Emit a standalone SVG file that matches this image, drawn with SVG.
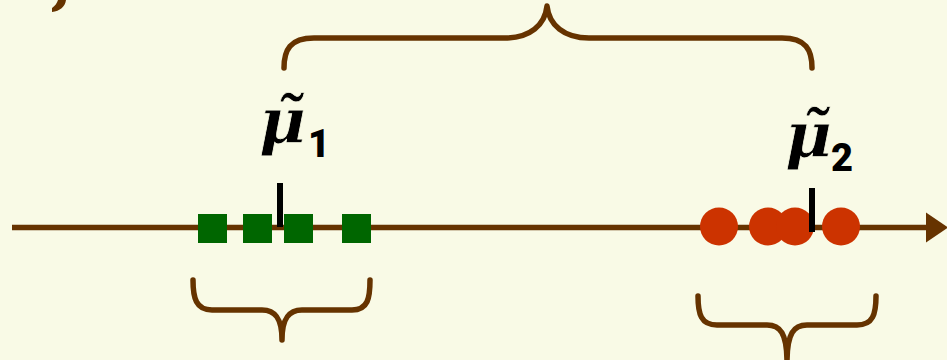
<svg xmlns="http://www.w3.org/2000/svg" width="947" height="360" viewBox="0 0 947 360">
<defs>
<style>
.brace{fill:none;stroke:#663300;stroke-width:5.5;stroke-linecap:round;stroke-linejoin:round}
.axis{stroke:#663300;stroke-width:5.5}
.sq{fill:#006600}
.dot{fill:#CC3300}
.tick{stroke:#000;stroke-width:6}
.mu{font-family:"DejaVu Serif",serif;font-style:italic;font-weight:bold;font-size:64px;fill:#000;stroke:#F9FAE6;stroke-width:0.8px}
.sub{font-family:Roboto,"Liberation Sans",sans-serif;font-weight:900;font-size:38px;fill:#000}
</style>
<marker id="arr" markerWidth="22" markerHeight="32" refX="0" refY="16" markerUnits="userSpaceOnUse" orient="auto">
<path d="M0,1 L22,16 L0,31 Z" fill="#663300"/>
</marker>
</defs>
<rect width="947" height="360" fill="#F9FAE6"/>
<g id="connectors">
<line class="axis" x1="12" y1="227.5" x2="926" y2="227.5" marker-end="url(#arr)"/>
</g>
<g id="fragment">
<path d="M58,0 L66,0 C65,7 60,11 52,12 L52,8 C55,6 57,3 58,0 Z" fill="#663300"/>
</g>
<g id="brace-top">
<path class="brace" d="M284,68 C284,50 290,38 314,38 L505,38 C530,38 545,25 547,6 C549,25 564,38 589,38 L782,38 C806,38 812,50 812,68"/>
</g>
<g id="brace-left">
<path class="brace" d="M193,280 C193,298 196,310 212,310 L262,310 C275,310 282,318 282,340 C282,318 289,310 302,310 L352,310 C368,310 370,298 370,280"/>
</g>
<g id="brace-right">
<path class="brace" d="M698,296 C698,314 701,325 717,325 L767,325 C780,325 787,333 787,362 C787,333 794,325 807,325 L857,325 C873,325 876,314 876,296"/>
</g>
<g id="group1">
<rect class="sq" x="198" y="214" width="29" height="29"/>
<rect class="sq" x="243" y="214" width="29" height="29"/>
<rect class="sq" x="284" y="214" width="29" height="29"/>
<rect class="sq" x="342" y="214" width="29" height="29"/>
<line class="tick" x1="280" y1="183" x2="280" y2="227"/>
</g>
<g id="group2">
<circle class="dot" cx="719" cy="226.5" r="19"/>
<circle class="dot" cx="768" cy="226.5" r="19"/>
<circle class="dot" cx="795" cy="226.5" r="19"/>
<circle class="dot" cx="841" cy="226.5" r="19"/>
<line class="tick" x1="812" y1="188" x2="812" y2="232"/>
</g>
<g id="label1">
<text class="mu" x="259" y="143">μ̃</text>
<text class="sub" x="308" y="157">1</text>
</g>
<g id="label2">
<text class="mu" x="785" y="157">μ̃</text>
<text class="sub" x="831" y="171">2</text>
</g>
</svg>
